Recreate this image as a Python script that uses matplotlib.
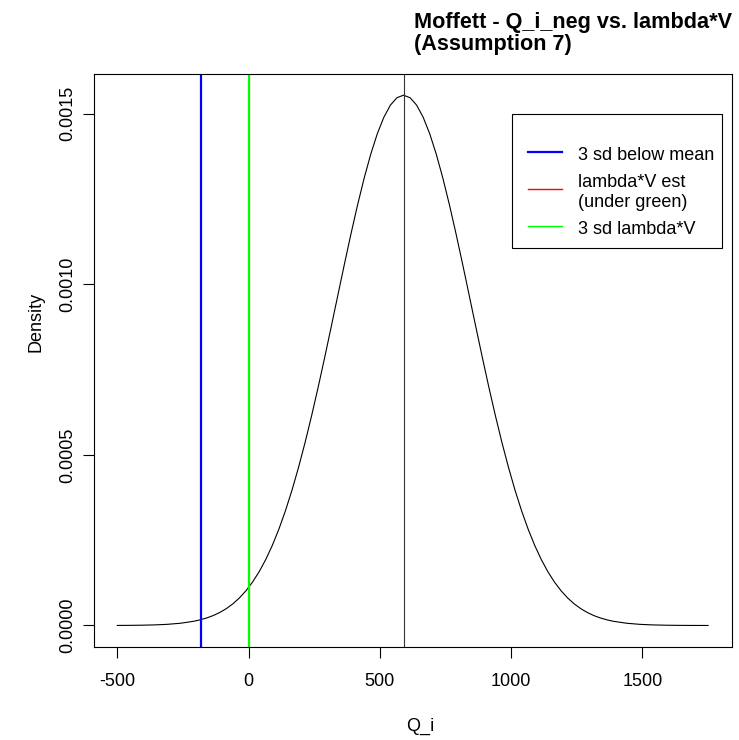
import matplotlib
matplotlib.use('Agg')
import matplotlib.pyplot as plt
from matplotlib.patches import Rectangle

matplotlib.rcParams.update({'font.size': 13, 'font.family': 'Liberation Sans'})

# density curve of Q_i
q_values = [-500, -460, -410, -360, -310, -260, -210, -185, -160, -135, -110, -85, -60, -35, -10,
            15, 40, 65, 90, 115, 140, 165, 190, 215, 240, 265, 290, 315, 340, 365, 390,
            415, 440, 465, 490, 515, 540, 565, 590, 615, 640, 665, 690, 715, 740, 765, 790,
            815, 840, 865, 890, 915, 940, 965, 990, 1015, 1040, 1065, 1090, 1115, 1140, 1165,
            1190, 1215, 1240, 1265, 1290, 1315, 1340, 1365, 1390, 1440, 1490, 1540, 1590,
            1640, 1690, 1750]
density = [0.00000019, 0.00000037, 0.00000080, 0.00000168, 0.00000338, 0.00000655, 0.00001223,
           0.00001647, 0.00002199, 0.00002906, 0.00003807, 0.00004937, 0.00006345, 0.00008076,
           0.00010183, 0.00012716, 0.00015734, 0.00019285, 0.00023416, 0.00028163, 0.00033552,
           0.00039593, 0.00046284, 0.00053594, 0.00061479, 0.00069854, 0.00078628, 0.00087664,
           0.00096820, 0.0010593, 0.0011480, 0.0012324, 0.0013106, 0.0013806, 0.0014407,
           0.0014892, 0.0015249, 0.0015467, 0.0015540, 0.0015467, 0.0015249, 0.0014892,
           0.0014407, 0.0013806, 0.0013106, 0.0012324, 0.0011480, 0.0010593, 0.00096820,
           0.00087664, 0.00078628, 0.00069854, 0.00061479, 0.00053594, 0.00046284, 0.00039593,
           0.00033552, 0.00028163, 0.00023416, 0.00019285, 0.00015734, 0.00012716, 0.00010183,
           0.00008076, 0.00006345, 0.00004937, 0.00003807, 0.00002906, 0.00002199, 0.00001647,
           0.00001223, 0.00000655, 0.00000338, 0.00000168, 0.00000080, 0.00000037, 0.00000016,
           0.00000006]

mean_q = 590
three_sd_below = -180
lambda_v_est = 0
three_sd_lambda_v = 0

x_ticks = [-500, 0, 500, 1000, 1500]
y_ticks = [0.0, 0.0005, 0.0010, 0.0015]
y_tick_labels = ['0.0000', '0.0005', '0.0010', '0.0015']

legend_labels = ['3 sd below mean', 'lambda*V est\n(under green)', '3 sd lambda*V']
legend_colors = ['#0000FF', '#FF0000', '#00FF00']
legend_widths = [1.6, 1.0, 1.0]

W, H = 739, 740
fig = plt.figure(figsize=(W / 100, H / 100), dpi=100)


def fx(x):
    return x / W


def fy(y):
    return 1 - y / H


ax = fig.add_axes([fx(93.7), fy(646.7), fx(731.7) - fx(93.7), fy(74) - fy(646.7)])

ax.plot(q_values, density, color='black', lw=0.8)
ax.axvline(mean_q, color='#333333', lw=0.8)
ax.axvline(three_sd_below, color='#0000FF', lw=1.6)
ax.axvline(lambda_v_est, color='#FF0000', lw=0.8)
ax.axvline(three_sd_lambda_v, color='#00FF00', lw=1.6)

# R style 4% padding around the data
xr = max(q_values) - min(q_values)
yr = max(density) - 0
ax.set_xlim(min(q_values) - 0.04 * xr, max(q_values) + 0.04 * xr)
ax.set_ylim(0 - 0.04 * yr, max(density) + 0.04 * yr)

ax.set_xticks(x_ticks)
ax.set_xticklabels([str(t) for t in x_ticks])
ax.set_yticks(y_ticks)
ax.set_yticklabels(y_tick_labels, rotation=90, va='center')
ax.tick_params(direction='out', length=7.6, width=0.8, labelsize=13)
ax.tick_params(axis='x', pad=11)
ax.tick_params(axis='y', pad=5)
for s in ax.spines.values():
    s.set_linewidth(0.8)

fig.text(fx(36), fy(322), 'Density', rotation=90, ha='center', va='center', fontsize=13)
fig.text(fx(420), fy(726), 'Q_i', ha='center', va='center', fontsize=13)

fig.text(fx(414), fy(27.6), 'Moffett - Q_i_neg vs. lambda*V', fontsize=15.6,
         fontweight='bold', ha='left', va='baseline')
fig.text(fx(414), fy(50), '(Assumption 7)', fontsize=15.6,
         fontweight='bold', ha='left', va='baseline')

# legend box drawn by hand to match the R layout
fig.patches.append(Rectangle((fx(512), fy(248)), fx(722) - fx(512), fy(114) - fy(248),
                             transform=fig.transFigure, fill=False, edgecolor='black', lw=0.8))
line_y = [152, 189, 226]
text_y = [[160], [187], [207, ], [234]]
text_y = [[160], [186.7, 207], [234]]
for label, color, lw, ly, ty in zip(legend_labels, legend_colors, legend_widths, line_y, text_y):
    fig.add_artist(plt.Line2D([fx(528), fx(562)], [fy(ly), fy(ly)], color=color, lw=lw,
                              transform=fig.transFigure))
    for part, yy in zip(label.split('\n'), ty):
        fig.text(fx(578), fy(yy), part, ha='left', va='baseline', fontsize=13)

plt.savefig('out.png', dpi=100)
